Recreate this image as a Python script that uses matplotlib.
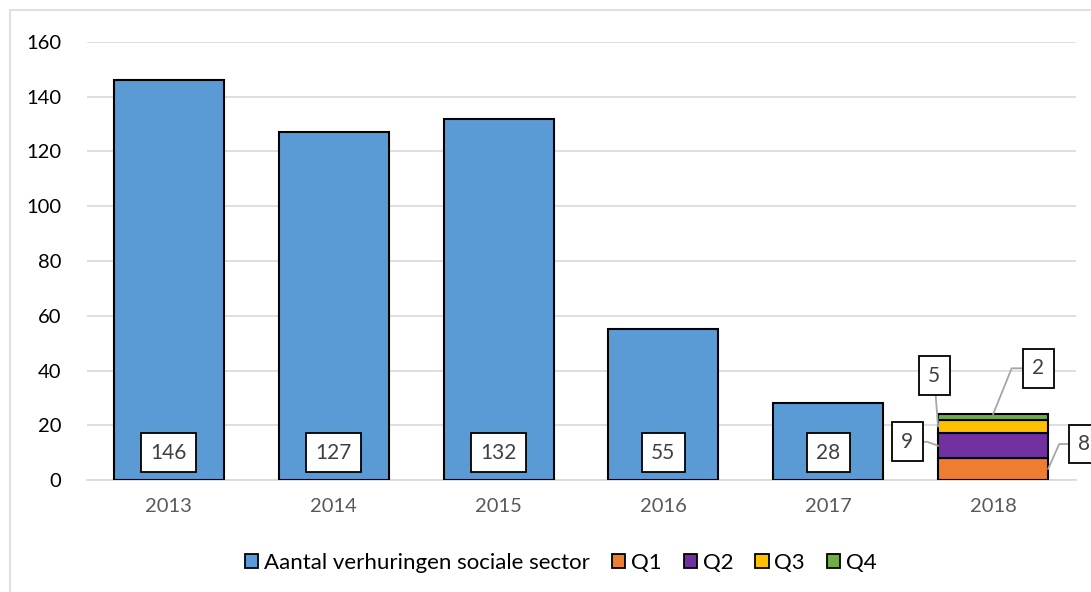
import matplotlib.pyplot as plt
from matplotlib.patches import Rectangle, Patch

plt.rcParams['font.family'] = ['Lato', 'DejaVu Sans']

years = ['2013', '2014', '2015', '2016', '2017', '2018']
verhuringen = [146, 127, 132, 55, 28]
quarters = ['Q1', 'Q2', 'Q3', 'Q4']
q_values = [8, 9, 5, 2]

blue = '#5b9bd5'
q_colors = ['#ed7d31', '#7030a0', '#ffc000', '#70ad47']
fs_tick = 14.5
fs_lab = 15
fs_leg = 16

fig = plt.figure(figsize=(10.91, 5.92), dpi=100)
# chart border
fig.patches.append(Rectangle((10 / 1091, -0.1), 1.2, 1 - 10 / 592 + 0.1,
                             transform=fig.transFigure, fill=False,
                             edgecolor='#d9d9d9', linewidth=1.2))

ax = fig.add_axes([86.5 / 1091, 1 - 480 / 592, 989 / 1091, 438 / 592])
width = 0.667

x_blue = list(range(len(verhuringen)))
ax.bar(x_blue, verhuringen, width=width, color=blue, edgecolor='black',
       linewidth=1.5, zorder=3)

box = dict(boxstyle='square,pad=0.45', facecolor='white', edgecolor='black', linewidth=1.3)
for x, v in zip(x_blue, verhuringen):
    ax.text(x, 10, str(v), ha='center', va='center', fontsize=fs_lab,
            color='#404040', bbox=box, zorder=5)

# stacked quarters for the last year
x_q = len(verhuringen)
bottom = 0
mids = []
for q, v, c in zip(quarters, q_values, q_colors):
    ax.bar(x_q, v, width=width, bottom=bottom, color=c, edgecolor='black',
           linewidth=1.5, zorder=3)
    mids.append((bottom, v))
    bottom += v

half = width / 2
# anchor point on the segment, label offset in pixels, leader line shape
anchors = [
    ((x_q + half, mids[0][0] + mids[0][1] / 2), (36, 25), 'angle,angleA=0,angleB=66,rad=0'),
    ((x_q - half, mids[1][0] + mids[1][1] / 2), (-31, 4), 'angle,angleA=0,angleB=-20,rad=0'),
    ((x_q - half, mids[2][0] + mids[2][1] / 2), (-4, 51), 'arc3'),
    ((x_q, mids[3][0] + mids[3][1]), (45, 46), 'angle,angleA=0,angleB=68,rad=0'),
]
for (pt, off, conn), v in zip(anchors, q_values):
    ax.annotate(str(v), xy=pt, xytext=off, textcoords='offset pixels',
                ha='center', va='center', fontsize=fs_lab, color='#404040',
                bbox=box, annotation_clip=False, zorder=6,
                arrowprops=dict(arrowstyle='-', color='#a6a6a6', linewidth=1.3,
                                shrinkA=0, shrinkB=0, connectionstyle=conn))

ax.set_xlim(-0.5, len(years) - 0.5)
ax.set_ylim(0, 160)
ax.set_yticks(range(0, 161, 20))
ax.set_xticks(range(len(years)))
ax.set_xticklabels(years)
ax.yaxis.grid(True, color='#d9d9d9', linewidth=1.2, zorder=0)
ax.set_axisbelow(True)
for s in ['top', 'right', 'left']:
    ax.spines[s].set_visible(False)
ax.spines['bottom'].set_color('#d9d9d9')
ax.spines['bottom'].set_linewidth(1.2)
ax.tick_params(axis='both', length=0, labelsize=fs_tick)
ax.tick_params(axis='y', pad=18, colors='black')
ax.tick_params(axis='x', pad=13, labelcolor='#595959')

handles = [Patch(facecolor=blue, edgecolor='black', linewidth=1.3,
                 label='Aantal verhuringen sociale sector')]
handles += [Patch(facecolor=c, edgecolor='black', linewidth=1.3, label=q)
            for q, c in zip(quarters, q_colors)]
fig.legend(handles=handles, loc='center', bbox_to_anchor=(0.514, 1 - 563 / 592),
           ncol=5, frameon=False, fontsize=fs_leg, handlelength=0.6, handleheight=0.6,
           handletextpad=0.25, columnspacing=1.0)

fig.savefig('out.png', dpi=100)
